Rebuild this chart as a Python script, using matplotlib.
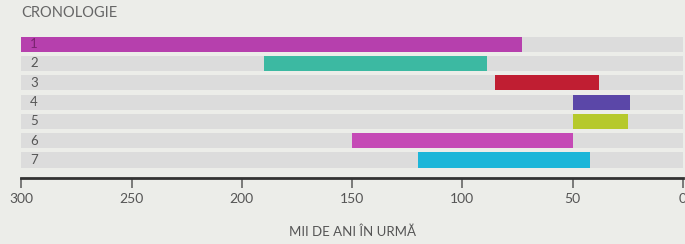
import matplotlib.pyplot as plt

rows = ['1', '2', '3', '4', '5', '6', '7']
start = [300, 190, 85, 50, 50, 150, 120]   # thousand years ago
end = [73, 89, 38, 24, 25, 50, 42]
colors = ['#b640ad', '#3cb9a2', '#c01e32', '#5b47a8', '#b6c92c', '#c54ab6', '#1cb6d9']
ticks = [300, 250, 200, 150, 100, 50, 0]

plt.rcParams['font.family'] = ['Lato', 'DejaVu Sans']
bg = '#ecede9'
fig = plt.figure(figsize=(6.85, 2.44), dpi=100, facecolor=bg)
ax = fig.add_axes([0.031, 0.2705, 0.966, 0.59])
ax.set_facecolor(bg)

y = list(range(1, len(rows) + 1))
# grey background bands
ax.barh(y, [300] * len(rows), left=0, height=0.78, color='#dcdcdc', zorder=1)
ax.barh(y, [s - e for s, e in zip(start, end)], left=end, height=0.78,
        color=colors, zorder=2)
for yi, lab in zip(y, rows):
    ax.text(296, yi, lab, va='center', ha='left', fontsize=9.5,
            color='#7a2470' if lab == '1' else '#555555', zorder=3)

ax.set_xlim(300, 0)
ax.set_ylim(7.93, 0.48)
ax.set_yticks([])
ax.set_xticks(ticks)
ax.set_xticklabels([str(t) for t in ticks])
ax.tick_params(axis='x', length=7, width=1.2, color='#666666', labelsize=10,
               labelcolor='#555555', pad=4)
for s in ['top', 'right', 'left']:
    ax.spines[s].set_visible(False)
ax.spines['bottom'].set_color('#333333')
ax.spines['bottom'].set_linewidth(2)

fig.text(0.031, 0.945, 'CRONOLOGIE', fontsize=10.5, color='#666666', va='center')
fig.text(0.514, 0.05, 'MII DE ANI ÎN URMĂ', fontsize=9.5, color='#555555',
         ha='center', va='center')

fig.savefig('out.png', dpi=100, facecolor=bg)
